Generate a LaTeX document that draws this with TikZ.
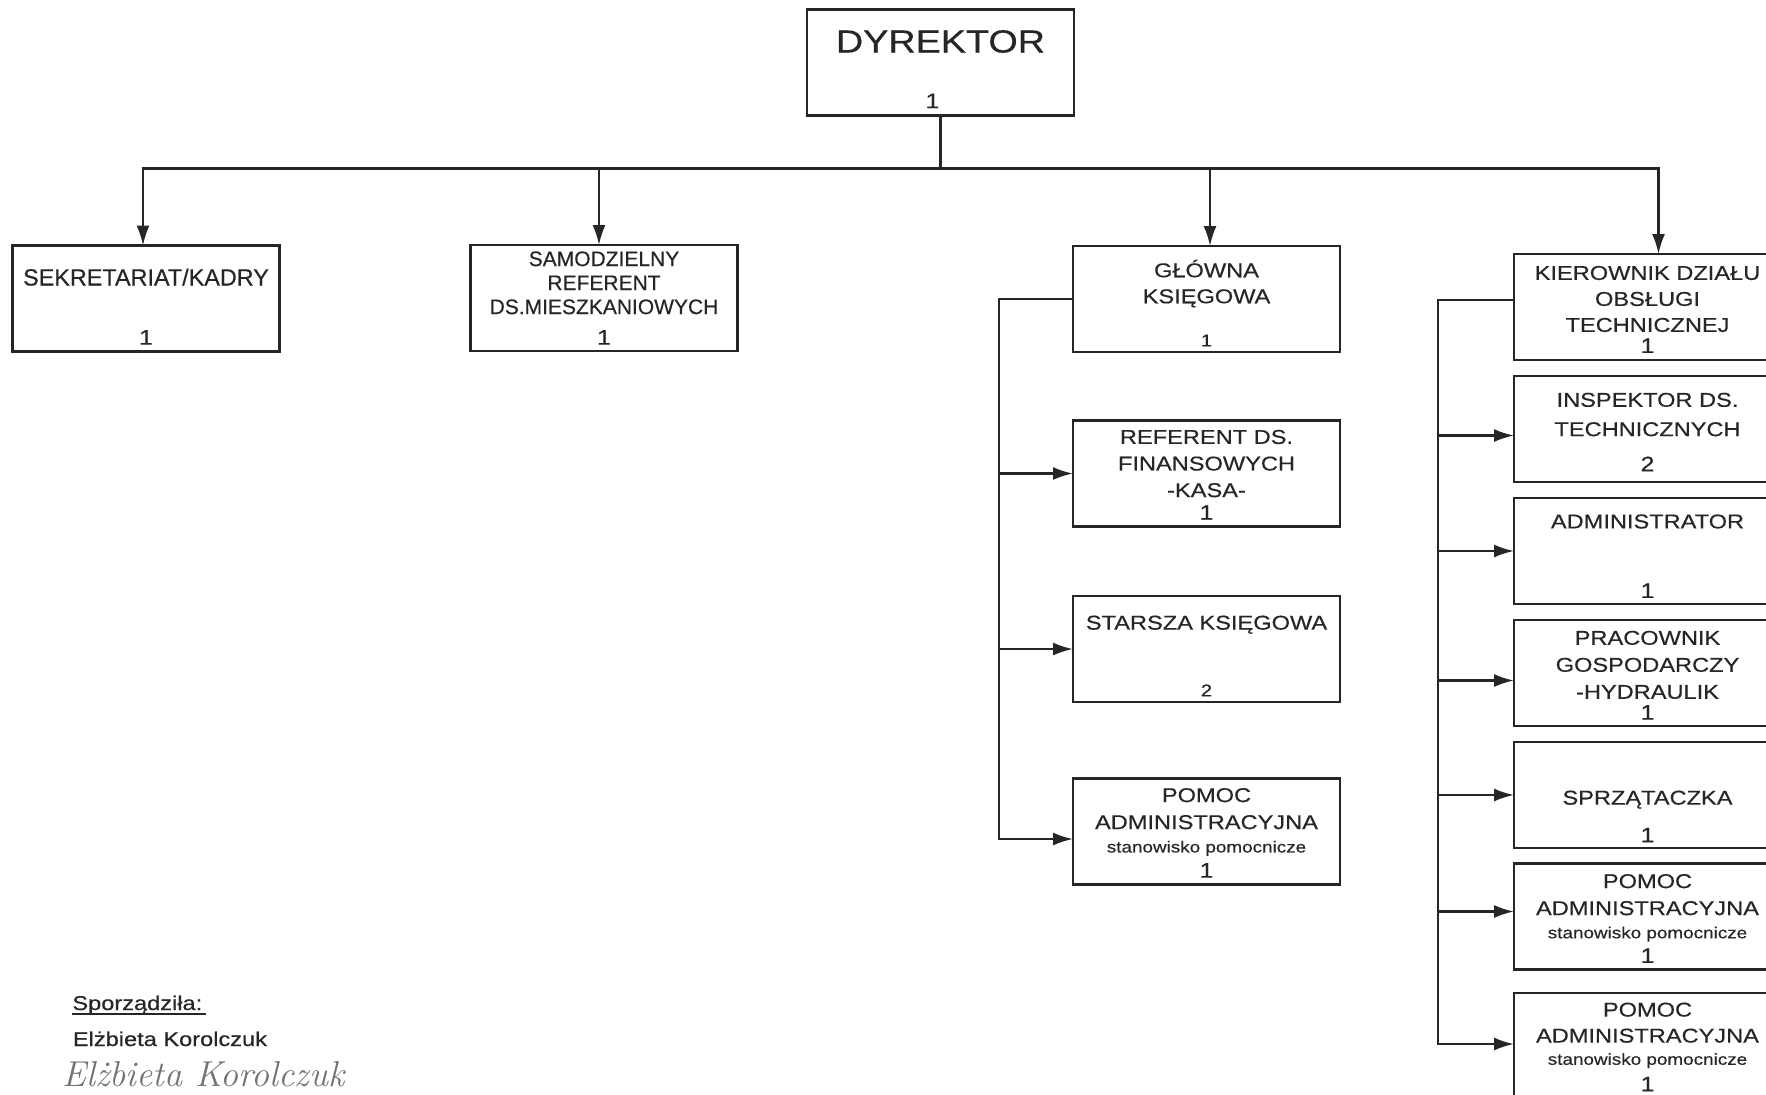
\documentclass[tikz,border=0pt]{standalone}
\usepackage{fontspec}
\setmainfont{Liberation Sans}[FakeStretch=1.18, FakeBold=0.4]
\newfontfamily\narrowfont{Liberation Sans}[FakeBold=0.4]
\usepackage{tikz}
\usetikzlibrary{calc, positioning, arrows.meta}
\tikzset{
    unit/.style={rectangle, draw=black!85, line width=1.1pt, fill=white, minimum width=133.5pt, minimum height=53pt, inner sep=0pt, outer sep=0pt},
    title/.style={align=center, inner sep=0pt, text=black!85, font=\fontsize{10}{13}\selectfont, execute at begin node=\strut},
    count/.style={inner sep=0pt, text=black!85, font=\fontsize{10.5}{12}\selectfont},
    wire/.style={draw=black!85, line width=1.1pt},
    arrow/.style={wire, -{Latex[length=10pt, width=6.5pt]}},
    footer/.style={inner sep=0pt, text=black!85, font=\fontsize{10}{12}\selectfont},
    hand/.style={inner sep=0pt, text=black!55, font=\fontfamily{lmr}\fontsize{18}{20}\itshape}
}

\begin{document}
\begin{tikzpicture}[x=0.5pt, y=-0.5pt]
    \clip (0,0) rectangle (1766,1094);

    % Director
    \node[unit] (DYR) at (940.5,62.5) {};
    \node[title, font=\fontsize{16}{19}\selectfont, below=8pt of DYR.north] (DYRt) {DYREKTOR};
    \node[count, above=3.5pt of DYR.south, xshift=-4pt] (DYRn) {1};

    % First row
    \node[unit] (SEK) at (146,298.5) {};
    \node[title, font=\narrowfont\fontsize{11.7}{14}\selectfont, below=10pt of SEK.north] (SEKt) {SEKRETARIAT/KADRY};
    \node[count, above=3.25pt of SEK.south] (SEKn) {1};

    \node[unit] (SAM) at (604,298) {};
    \node[title, font=\narrowfont\fontsize{10.5}{12}\selectfont, below=3pt of SAM.north] (SAMt) {SAMODZIELNY\\REFERENT\\DS.MIESZKANIOWYCH};
    \node[count, above=3pt of SAM.south] (SAMn) {1};

    % Accounting column
    \node[unit] (GK) at (1206.5,299) {};
    \node[title, below=6.75pt of GK.north] (GKt) {GŁÓWNA\\KSIĘGOWA};
    \node[count, font=\fontsize{8.5}{10}\selectfont, above=2.65pt of GK.south] (GKn) {1};

    \node[unit] (RF) at (1206.5,473.5) {};
    \node[title, font=\fontsize{10}{13.3}\selectfont, below=4.5pt of RF.north] (RFt) {REFERENT DS.\\FINANSOWYCH\\-KASA-};
    \node[count, above=3.2pt of RF.south] (RFn) {1};

    \node[unit] (SK) at (1206.5,649) {};
    \node[title, below=7.5pt of SK.north] (SKt) {STARSZA KSIĘGOWA};
    \node[count, font=\fontsize{8.5}{10}\selectfont, above=2.65pt of SK.south] (SKn) {2};

    \node[unit] (PA) at (1206.5,831.5) {};
    \node[title, below=4.6pt of PA.north] (PAt) {POMOC\\[0.5pt]ADMINISTRACYJNA\\[-1.3pt]{\fontsize{8}{10}\selectfont stanowisko pomocnicze}};
    \node[count, above=3.25pt of PA.south] (PAn) {1};

    % Technical column
    \node[unit] (KDT) at (1647.5,307) {};
    \node[title, below=5.75pt of KDT.north] (KDTt) {KIEROWNIK DZIAŁU\\OBSŁUGI\\TECHNICZNEJ};
    \node[count, above=3.35pt of KDT.south] (KDTn) {1};

    \node[unit] (INS) at (1647.5,429) {};
    \node[title, below=8.2pt of INS.north] (INSt) {INSPEKTOR DS.\\[1.7pt]TECHNICZNYCH};
    \node[count, above=5.15pt of INS.south] (INSn) {2};

    \node[unit] (ADM) at (1647.5,551) {};
    \node[title, below=5.9pt of ADM.north] (ADMt) {ADMINISTRATOR};
    \node[count, above=2.85pt of ADM.south] (ADMn) {1};

    \node[unit] (PG) at (1647.5,673) {};
    \node[title, below=5.2pt of PG.north] (PGt) {PRACOWNIK\\[0.5pt]GOSPODARCZY\\[0.5pt]-HYDRAULIK};
    \node[count, above=3pt of PG.south] (PGn) {1};

    \node[unit] (SPR) at (1647.5,795) {};
    \node[title, below=22pt of SPR.north] (SPRt) {SPRZĄTACZKA};
    \node[count, above=2.65pt of SPR.south] (SPRn) {1};

    \node[unit] (PA1) at (1647.5,916.5) {};
    \node[title, below=5.1pt of PA1.north] (PA1t) {POMOC\\[0.5pt]ADMINISTRACYJNA\\[-1.4pt]{\fontsize{8}{10}\selectfont stanowisko pomocnicze}};
    \node[count, above=3.1pt of PA1.south] (PA1n) {1};

    \node[unit] (PA2) at (1647.5,1046) {};
    \node[title, below=4.6pt of PA2.north] (PA2t) {POMOC\\ADMINISTRACYJNA\\[-1.9pt]{\fontsize{8}{10}\selectfont stanowisko pomocnicze}};
    \node[count, above=3.65pt of PA2.south] (PA2n) {1};

    % Connectors from director
    \coordinate (BUS) at ([yshift=-26.5pt]DYR.south);
    \draw[wire] (DYR.south) -- (BUS);
    \draw[arrow] (BUS) -| ([xshift=-1.5pt]SEK.north);
    \draw[arrow] (BUS) -| ([xshift=-2.5pt]SAM.north);
    \draw[arrow] (BUS) -| ([xshift=1.75pt]GK.north);
    \draw[arrow] (BUS) -| ([xshift=5.5pt]KDT.north);

    % Accounting bracket
    \coordinate (GKbr) at ([xshift=-37pt]GK.west);
    \draw[arrow] (GK.west) -- (GKbr) |- ([yshift=-3.75pt]PA.west);
    \draw[arrow] (GKbr) |- (RF.west);
    \draw[arrow] (GKbr) |- (SK.west);

    % Technical bracket
    \coordinate (KDTbr) at ([xshift=-38pt, yshift=3.5pt]KDT.west);
    \draw[arrow] ([yshift=3.5pt]KDT.west) -- (KDTbr) |- ([yshift=1pt]PA2.west);
    \draw[arrow] (KDTbr) |- ([yshift=-3.25pt]INS.west);
    \draw[arrow] (KDTbr) |- (ADM.west);
    \draw[arrow] (KDTbr) |- ([yshift=-3.75pt]PG.west);
    \draw[arrow] (KDTbr) |- (SPR.west);
    \draw[arrow] (KDTbr) |- ([yshift=2.5pt]PA1.west);

    % Signature
    \node[footer, anchor=base west] (SP) at (72,1010) {Sporządziła:};
    \draw[black!85, line width=0.75pt] ([yshift=-2pt]SP.base west) -- ([yshift=-2pt, xshift=1.5pt]SP.base east);
    \node[footer, anchor=base west] (NAME) at (72.5,1046) {Elżbieta Korolczuk};
    \node[hand, anchor=base west] (SIG) at (62,1086) {Elżbieta Korolczuk};
\end{tikzpicture}
\end{document}
